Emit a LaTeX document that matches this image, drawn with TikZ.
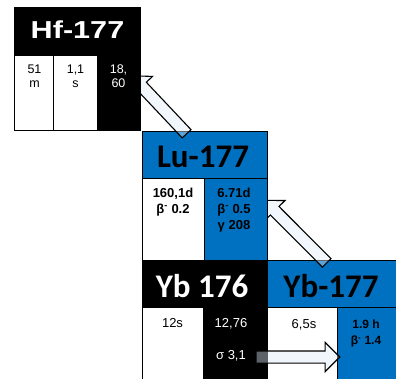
\documentclass[tikz,border=0pt]{standalone}
\usepackage{fontspec}
\setmainfont{Liberation Sans}
\newfontfamily\hdfont{Carlito}
\usetikzlibrary{positioning,shapes.arrows,calc}
\definecolor{nucblue}{HTML}{0070C0}
\definecolor{arrfill}{HTML}{DDEBF7}

\begin{document}
\begin{tikzpicture}[x=1pt,y=-1pt,
  box/.style={draw=black,line width=1.1pt,anchor=north west,inner sep=0pt},
  hdtext/.style={font=\hdfont\bfseries\fontsize{33}{33}\selectfont,inner sep=0pt},
  val/.style={align=center,inner sep=0pt,anchor=north},
  fatarrow/.style={single arrow,draw=black,line width=1.1pt,fill=arrfill,fill opacity=0.42,
    inner xsep=0pt,inner ysep=5.5pt,single arrow head extend=8.5pt,single arrow tip angle=90}]
\useasboundingbox (0,0) rectangle (396,379);
\clip (0,0) rectangle (396,379);

% Yb 176
\node[box,fill=black,minimum width=125pt,minimum height=47pt] (yb176) at (142,260) {};
\node[box,fill=white,minimum width=61pt,minimum height=80pt] (yb176t) at (142,307) {};
\node[box,fill=black,minimum width=64pt,minimum height=80pt] (yb176s) at (203,307) {};
\node[hdtext,text=white] (yb176lbl) at (202,286) {Yb 176};
\node[val,font=\fontsize{13}{15}\selectfont] (yb176tv) at (172.5,318.5) {12s};
\node[val,font=\fontsize{13}{15}\selectfont,text=white] (yb176sv) at (231,318.5) {12,76};
\node[anchor=base,inner sep=0pt,font=\fontsize{13}{15}\selectfont,text=white] (sigma) at (231,359.5) {σ 3,1};

% Yb-177
\node[box,fill=nucblue,minimum width=130pt,minimum height=47pt] (yb177) at (267,260) {};
\node[box,fill=white,minimum width=70pt,minimum height=80pt] (yb177t) at (267,307) {};
\node[box,fill=nucblue,minimum width=60pt,minimum height=80pt] (yb177d) at (337,307) {};
\node[hdtext] (yb177lbl) at (331,286) {Yb-177};
\node[val,font=\fontsize{13}{15}\selectfont] (yb177tv) at (304,319) {6,5s};
\node[val,font=\bfseries\fontsize{12}{16}\selectfont] (yb177dv) at (366,319.5) {1.9 h\\β\textsuperscript{-} 1.4};

% capture and decay arrows
\coordinate (a3tail) at (253,357);
\coordinate (a3tip) at (336.7,357);
\path let \p1=($(a3tip)-(a3tail)$) in
  node[fatarrow,rotate={atan2(\y1,\x1)},minimum height={veclen(\x1,\y1)}] (capture) at ($(a3tail)!0.5!(a3tip)$) {};
\coordinate (a2tail) at (328.9,265.1);
\coordinate (a2tip) at (266.5,202.5);
\path let \p1=($(a2tip)-(a2tail)$) in
  node[fatarrow,rotate={atan2(\y1,\x1)},minimum height={veclen(\x1,\y1)}] (decay2) at ($(a2tail)!0.5!(a2tip)$) {};

% Lu-177
\node[box,fill=nucblue,minimum width=125pt,minimum height=47pt] (lu) at (142,131) {};
\node[box,fill=white,minimum width=62pt,minimum height=82pt] (lum) at (142,178) {};
\node[box,fill=nucblue,minimum width=63pt,minimum height=82pt] (lug) at (204,178) {};
\node[hdtext] (lulbl) at (203,156.5) {Lu-177};
\node[val,font=\bfseries\fontsize{13}{16}\selectfont] (lumv) at (173,187.5) {160,1d\\β\textsuperscript{-} 0.2};
\node[val,font=\bfseries\fontsize{13}{16}\selectfont] (lugv) at (234,187.5) {6.71d\\β\textsuperscript{-} 0.5\\γ 208};

\coordinate (a1tail) at (188.7,136);
\coordinate (a1tip) at (134,78);
\path let \p1=($(a1tip)-(a1tail)$) in
  node[fatarrow,rotate={atan2(\y1,\x1)},minimum height={veclen(\x1,\y1)}] (decay1) at ($(a1tail)!0.5!(a1tip)$) {};

% Hf-177
\node[box,fill=black,minimum width=126pt,minimum height=48pt] (hf) at (14,7) {};
\node[box,fill=white,minimum width=39pt,minimum height=75pt] (hfm1) at (14,55) {};
\node[box,fill=white,minimum width=44pt,minimum height=75pt] (hfm2) at (53,55) {};
\node[box,fill=black,minimum width=43pt,minimum height=75pt] (hfg) at (97,55) {};
\node[inner sep=0pt,text=white] (hflbl) at (77.5,29.5)
  {\scalebox{1.25}[1]{\bfseries\fontsize{24.5}{24.5}\selectfont Hf-177}};
\node[val,font=\fontsize{12.5}{14}\selectfont] (hfm1v) at (34.5,65) {51\\m};
\node[val,font=\fontsize{12.5}{14}\selectfont] (hfm2v) at (75.5,65) {1,1\\s};
\node[val,font=\fontsize{12.5}{14}\selectfont,text=white] (hfgv) at (118.5,65) {18,\\60};
\end{tikzpicture}
\end{document}
